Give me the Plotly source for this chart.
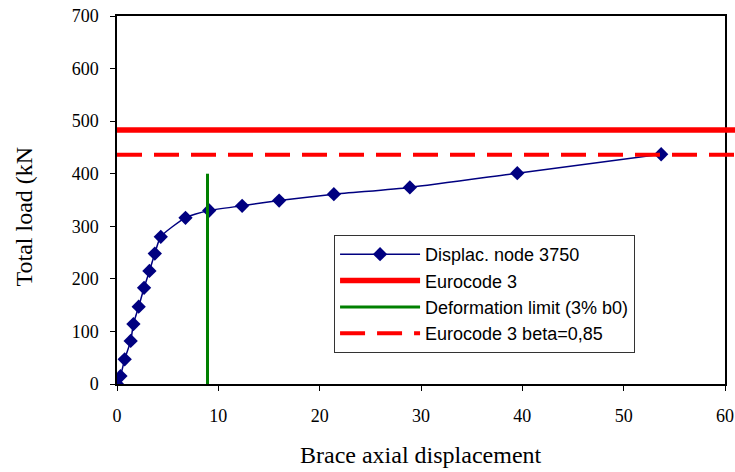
import plotly.graph_objects as go

# Data
disp = [0, 0.34, 0.76, 1.35, 1.62, 2.14, 2.67, 3.2, 3.73, 4.32, 6.76, 9.1,
        12.35, 16.0, 21.4, 28.9, 39.5, 53.7]
load = [0, 15, 47, 82, 114, 147, 183, 215, 248, 280, 316, 330,
        339, 349, 361, 374, 401, 437]
eurocode3 = 483
eurocode3_beta = 436
deform_x = [8.93, 8.93]
deform_y = [0, 400]
x_ticks = [0, 10, 20, 30, 40, 50, 60]
y_ticks = [0, 100, 200, 300, 400, 500, 600, 700]

fig = go.Figure()
fig.add_trace(go.Scatter(
    x=disp, y=load, mode="lines+markers", name="Displac. node 3750",
    line=dict(color="#000080", width=1.5, shape="spline", smoothing=0.6),
    marker=dict(symbol="diamond", size=11, color="#000080"),
    legendrank=1))
fig.add_trace(go.Scatter(
    x=deform_x, y=deform_y, mode="lines", name="Deformation limit (3% b0)",
    line=dict(color="#008000", width=3), legendrank=3))

fig.add_shape(type="line", xref="paper", yref="y", x0=0, x1=1.03,
              y0=eurocode3, y1=eurocode3,
              line=dict(color="#FF0000", width=5.5),
              showlegend=True, name="Eurocode 3", legendrank=2)
fig.add_shape(type="line", xref="paper", yref="y", x0=0, x1=1.03,
              y0=eurocode3_beta, y1=eurocode3_beta,
              line=dict(color="#FF0000", width=4, dash="25px,12px"),
              showlegend=True, name="Eurocode 3 beta=0,85", legendrank=4)

serif = "Liberation Serif, Times New Roman, serif"
fig.add_annotation(text="Brace axial displacement", xref="paper", yref="paper",
                   x=0.5, y=-0.193, xanchor="center", yanchor="middle",
                   showarrow=False, font=dict(family=serif, size=24, color="black"))
fig.add_annotation(text="Total load (kN", xref="paper", yref="paper",
                   x=-0.1537, y=0.454, xanchor="center", yanchor="middle",
                   textangle=-90, showarrow=False,
                   font=dict(family=serif, size=24, color="black"))

axis_common = dict(showline=True, linecolor="black", linewidth=1.5, mirror=True,
                   showgrid=False, zeroline=False, ticks="outside", ticklen=5,
                   tickcolor="black", automargin=False,
                   tickfont=dict(family=serif, size=18, color="black"))
fig.update_xaxes(range=[0, 60], tickvals=x_ticks, ticklabelstandoff=10, **axis_common)
fig.update_yaxes(range=[0, 700], tickvals=y_ticks, ticklabelstandoff=8, **axis_common)

fig.update_layout(
    width=735, height=472,
    margin=dict(l=117, r=10, t=16, b=88, autoexpand=False),
    paper_bgcolor="white", plot_bgcolor="white",
    showlegend=True,
    legend=dict(x=0.357, y=0.405, xanchor="left", yanchor="top",
                bgcolor="white", bordercolor="#333333", borderwidth=1,
                font=dict(family="Liberation Sans, Arial, sans-serif", size=18, color="black"),
                itemwidth=80, tracegroupgap=0),
)

fig.write_html("out.html")
